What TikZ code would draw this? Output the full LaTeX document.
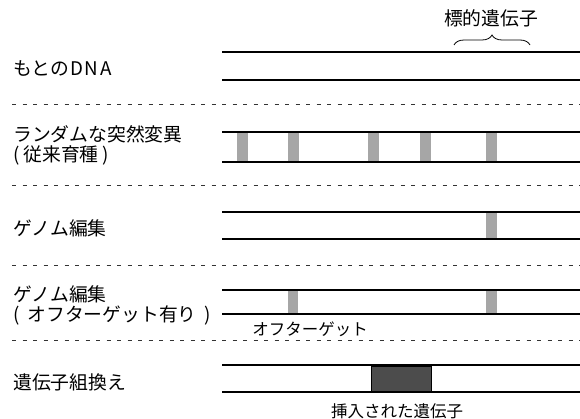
\documentclass[tikz,border=0pt]{standalone}
\usepackage{fontspec}
\newfontfamily\jp{Noto Sans CJK JP}
\usetikzlibrary{decorations.pathreplacing}
\begin{document}
\begin{tikzpicture}[x=1pt,y=-1pt,
  dna/.style={line width=2.2pt,black},
  sep/.style={line width=0.9pt,dash pattern=on 4pt off 6.5pt,black!80},
  mut/.style={fill=black!35,draw=none},
  ins/.style={fill=black!70,draw=black,line width=0.6pt},
  lab/.style={anchor=west,font=\jp\fontsize{18.8}{20}\selectfont,inner sep=0pt,align=left},
  small/.style={font=\jp\fontsize{16.5}{18}\selectfont,inner sep=0pt}]
\useasboundingbox (0,0) rectangle (580,419);
% separators
\foreach \yy/\nm in {104/s1,185/s2,265/s3,340/s4}{
  \coordinate (\nm a) at (12,\yy); \coordinate (\nm b) at (580,\yy);
  \draw[sep] (\nm a) -- (\nm b);}
% DNA double lines
\foreach \t/\b/\nm in {52/80/r1,132/162/r2,212/239/r3,290/314/r4,365/392/r5}{
  \coordinate (\nm tl) at (222,\t); \coordinate (\nm tr) at (580,\t);
  \coordinate (\nm bl) at (222,\b); \coordinate (\nm br) at (580,\b);
  \draw[dna] (\nm tl) -- (\nm tr);
  \draw[dna] (\nm bl) -- (\nm br);}
% mutation blocks row 2
\foreach \xx in {237,288,368,420,486}{
  \fill[mut] (\xx,133) rectangle ++(11,28);}
% row 3
\fill[mut] (486,213) rectangle (497,238);
% row 4
\fill[mut] (288,291) rectangle (298,313);
\fill[mut] (486,291) rectangle (497,313);
% row 5 insert
\draw[ins] (371,366) rectangle (431,391);
% labels
\node[lab] (l1) at (13,68) {もとの\kern1pt D\kern2pt N\kern2pt A};
\node[lab] (l2) at (13,145) {ランダムな突然変異\\(\kern4pt 従来育種\kern4pt)};
\node[lab] (l3) at (13,228) {ゲノム編集};
\node[lab] (l4) at (13,305) {ゲノム編集\\(\kern8pt オフターゲット有り\kern8pt)};
\node[lab] (l5) at (13,382) {遺伝子組換え};
\node[lab,anchor=center] (tg) at (491,18) {標的遺伝子};
\node[small] (ot) at (310,329) {オフターゲット};
\node[small] (ig) at (397,411) {挿入された遺伝子};
% brace
\coordinate (bl) at (454,45); \coordinate (br) at (530,45);
\draw[line width=0.8pt,decorate,decoration={brace,amplitude=10pt}] (bl) -- (br);
\end{tikzpicture}
\end{document}
